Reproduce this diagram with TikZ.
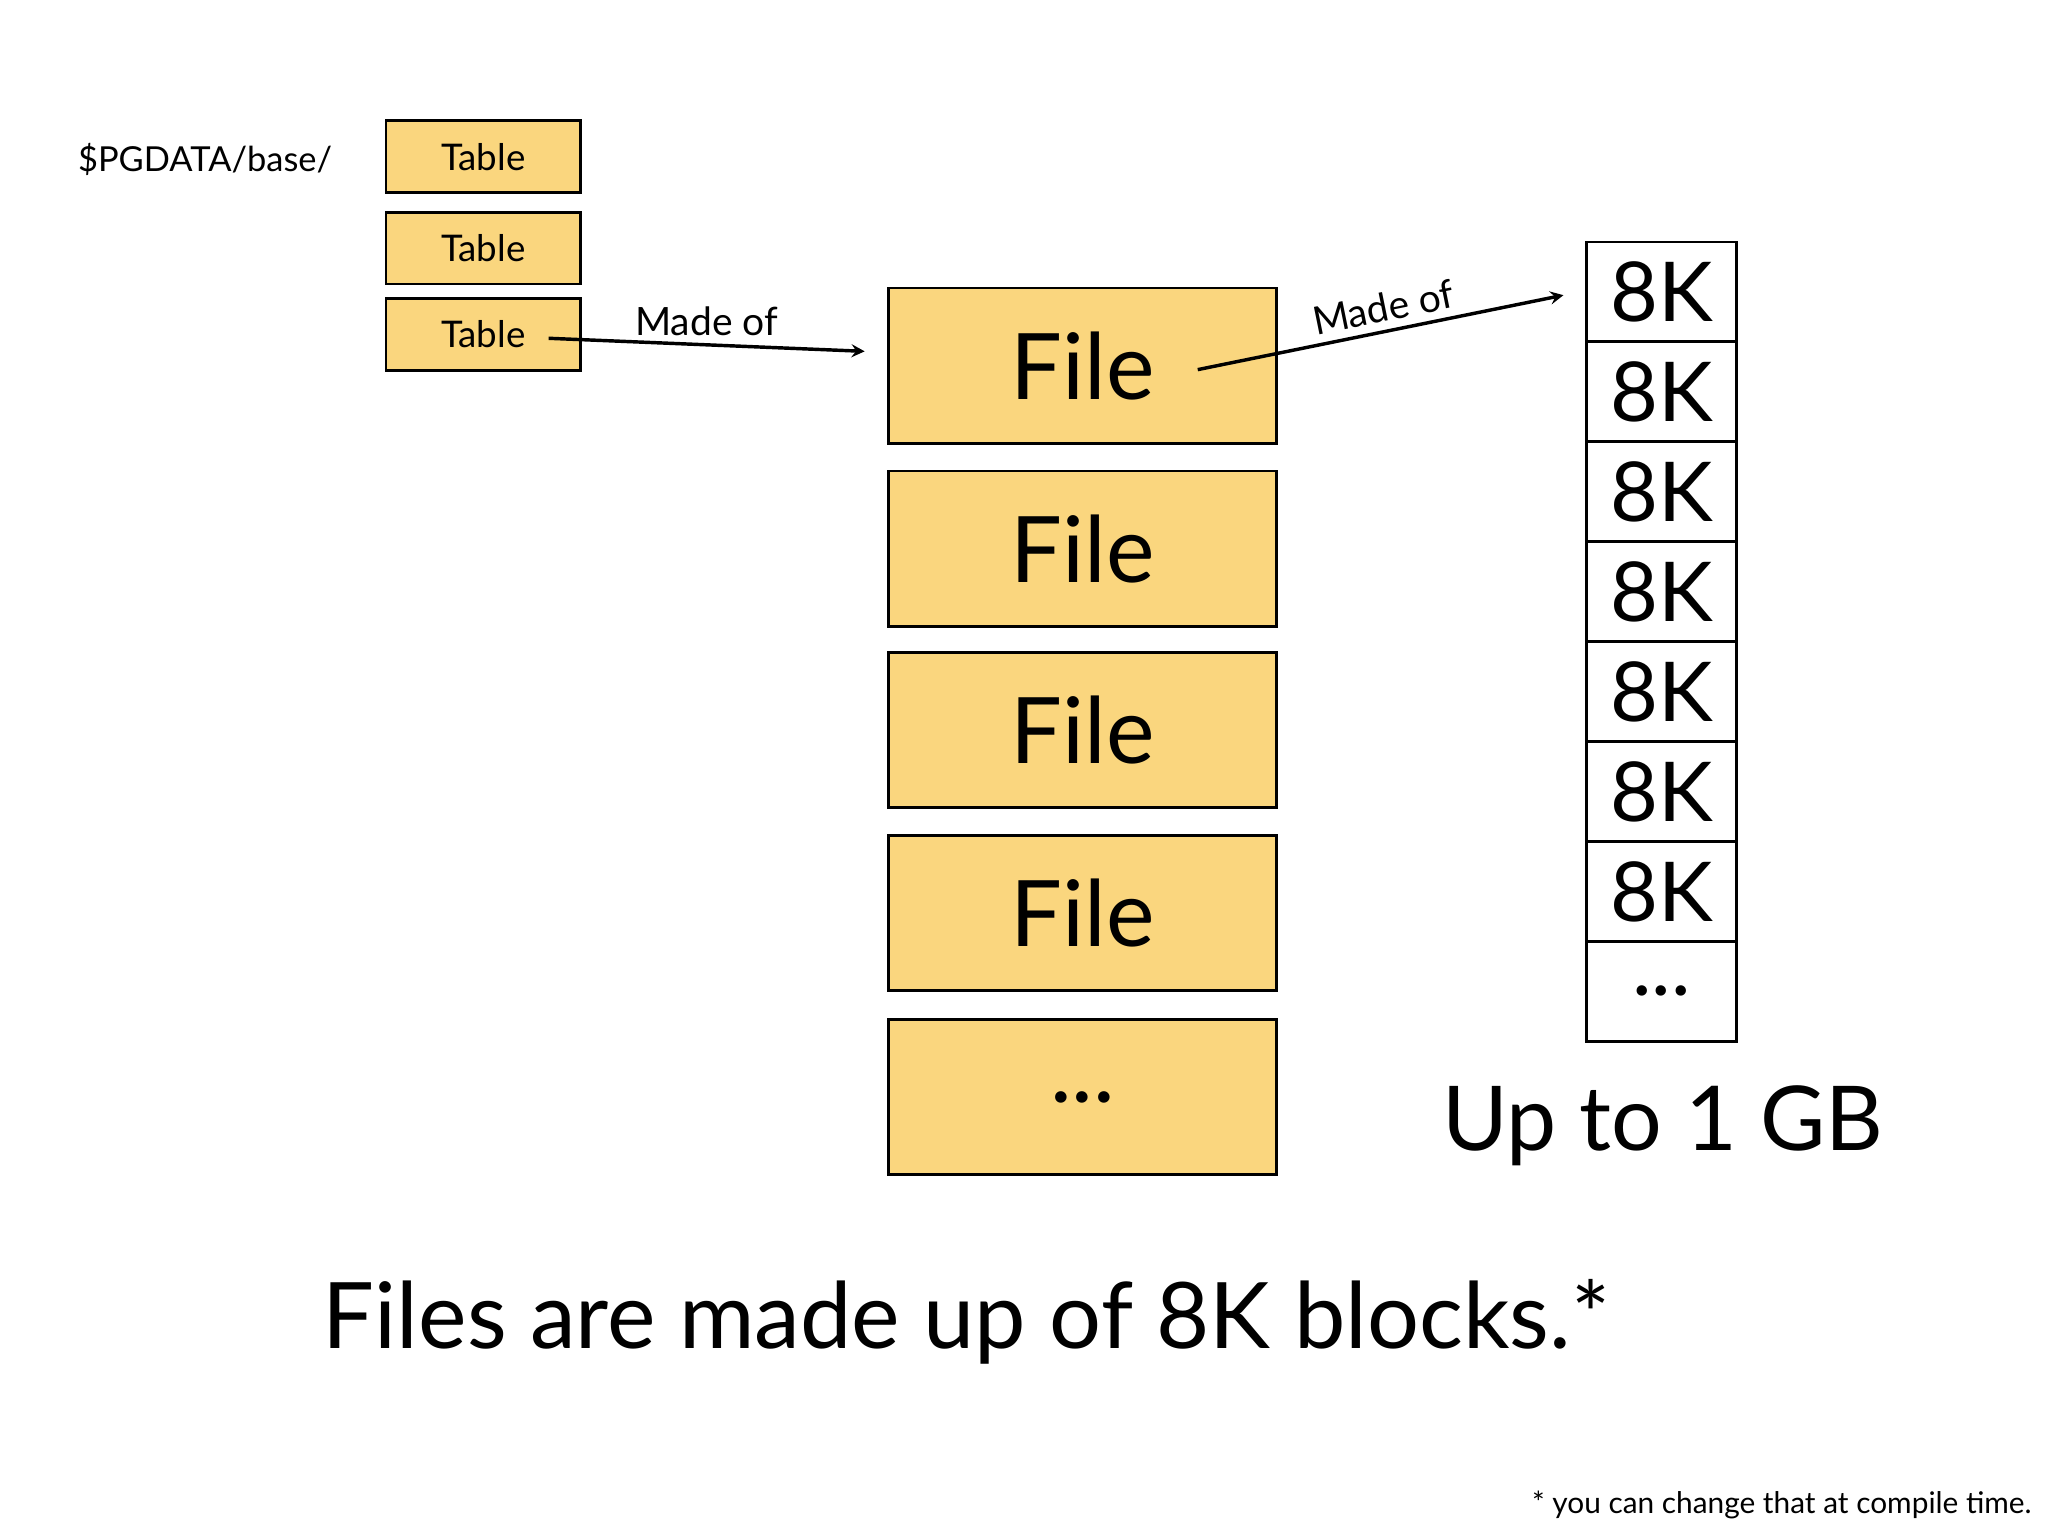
\documentclass[tikz,border=0pt]{standalone}
\usepackage{fontspec}
\setmainfont{Lato}
\usetikzlibrary{positioning}
\definecolor{boxyellow}{HTML}{FAD67E}

\begin{document}
\begin{tikzpicture}[x=0.02cm,y=-0.02cm,thick]
  \tikzset{
  tbl/.style={
    rectangle, draw=black, line width=1.2pt, fill=boxyellow,
    minimum width=2.98cm, minimum height=1.1cm, font=\fontsize{16}{18}\selectfont
  },
  fil/.style={
    rectangle, draw=black, line width=1.2pt, fill=boxyellow,
    minimum width=5.94cm, minimum height=2.38cm, font=\fontsize{40}{44}\selectfont
  },
  blk/.style={
    rectangle, draw=black, line width=1.2pt, fill=white,
    minimum width=2.3cm, minimum height=1.53cm, font=\fontsize{36}{40}\selectfont
  },
  arr/.style={->, >=stealth, line width=1.5pt}
}
\useasboundingbox (0,0) rectangle (1568,1176);
\node[font=\fontsize{15}{17}\selectfont] at (157,122) (pgdata) {\$PGDATA/base/};
\node[tbl] at (370,120) (table1) {Table};
\node[tbl] at (370,190) (table2) {Table};
\node[tbl] at (370,256) (table3) {Table};
\foreach \i/\y in {1/280,2/420,3/559,4/699}
  \node[fil] at (829,\y) (file\i) {File};
\node[fil] at (829,840) (file5) {...};
\foreach \i in {1,...,7}
  \node[blk] at (1272,185+76.5*\i-38) (block\i) {8K};
\node[blk] at (1272,759) (block8) {...};
\coordinate (a1s) at (420,259);
\coordinate (a1e) at (662,269);
\coordinate (a2s) at (917,283);
\coordinate (a2e) at (1197,226);
\draw[arr] (a1s) -- node[above, font=\fontsize{17}{19}\selectfont] {Made of} (a1e);
\draw[arr] (a2s) -- node[pos=0.52, above, sloped, font=\fontsize{17}{19}\selectfont] {Made of} (a2e);
\node[font=\fontsize{39}{44}\selectfont] at (1273,862) (limit) {Up to 1 GB};
\node[font=\fontsize{40}{44}\selectfont] at (740,1012) (caption) {Files are made up of 8K blocks.*};
\node[anchor=east, font=\fontsize{13}{15}\selectfont] at (1562,1152) (note) {* you can change that at compile time.};
\end{tikzpicture}
\end{document}
